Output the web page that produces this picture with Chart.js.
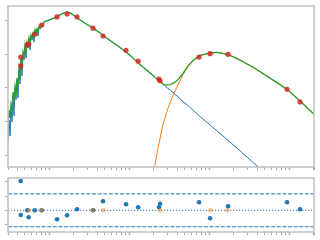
<!DOCTYPE html>
<html>
<head>
<meta charset="utf-8">
<script src="https://cdn.jsdelivr.net/npm/chart.js@4.4.1/dist/chart.umd.min.js"></script>
<style>
  html, body { margin: 0; padding: 0; background: #fff; }
  canvas { display: block; }
</style>
</head>
<body>
<canvas id="sed" width="320" height="172"></canvas>
<canvas id="resid" width="320" height="68"></canvas>
<script>
// wavelength axis limits (log) and log-luminosity limits
const xMin = 0.0307;
const xMax = 205;
const yMin = 40.676;
const yMax = 45.412;
const resMin = -1.517;
const resMax = 2.259;
const band = 1.15;

// noisy spectrum part
const specX = [0.03073, 0.03162, 0.03255, 0.03350, 0.03447, 0.03548, 0.03652, 0.03758, 0.03868, 0.03981,
  0.04097, 0.04217, 0.04340, 0.04467, 0.04597, 0.04732, 0.04870, 0.05012, 0.05158, 0.05309,
  0.05464, 0.05623, 0.05788, 0.05957, 0.06131, 0.06310, 0.06494, 0.06683, 0.06879, 0.07079,
  0.07286, 0.07499, 0.07718, 0.07943, 0.08175, 0.08660];
const specBlue = [41.41, 42.06, 41.59, 42.41, 42.00, 42.76, 42.18, 43.00, 42.65, 43.24,
  42.71, 43.53, 43.12, 43.82, 43.35, 44.00, 43.82, 44.24, 43.88, 44.35,
  44.18, 44.47, 44.12, 44.56, 44.41, 44.62, 44.35, 44.71, 44.59, 44.74,
  44.53, 44.82, 44.74, 44.85, 44.79, 44.94];
const specGreen = [41.94, 42.35, 42.12, 42.53, 42.41, 42.88, 42.65, 43.06, 42.88, 43.29,
  43.06, 43.59, 43.41, 43.88, 43.65, 44.06, 43.94, 44.26, 44.06, 44.35,
  44.24, 44.47, 44.29, 44.56, 44.47, 44.62, 44.50, 44.71, 44.62, 44.74,
  44.65, 44.82, 44.76, 44.85, 44.82, 44.94];

// smooth model part
const modelX = [0.09173, 0.1029, 0.1189, 0.1372, 0.1540, 0.1679, 0.1830, 0.2054, 0.2441, 0.2985,
  0.3548, 0.4340, 0.5788, 0.7718, 1.029, 1.372, 1.830, 2.113, 2.441, 2.738,
  2.985, 3.255, 3.652, 4.097, 4.732, 5.464, 6.310, 7.718, 10.29, 12.59,
  17.28, 24.41, 35.48, 53.09, 94.41, 137.2, 205];
const modelBlue = [44.97, 45.01, 45.07, 45.15, 45.21, 45.23, 45.21, 45.13, 45.00, 44.87,
  44.76, 44.62, 44.40, 44.19, 43.96, 43.69, 43.44, 43.32, 43.19, 43.09,
  43.01, 42.94, 42.84, 42.74, 42.60, 42.48, 42.35, 42.16, 41.91, 41.74,
  41.46, 41.15, 40.81, 40.44, null, null, null];
const modelGreen = [44.97, 45.01, 45.07, 45.15, 45.21, 45.23, 45.21, 45.13, 45.00, 44.87,
  44.76, 44.62, 44.40, 44.19, 43.96, 43.69, 43.44, 43.32, 43.18, 43.10,
  43.09, 43.10, 43.15, 43.25, 43.43, 43.65, 43.81, 43.96, 44.03, 44.05,
  43.99, 43.82, 43.61, 43.35, 42.96, 42.62, 42.23];

const dustX = [1.939, 2.083, 2.304, 2.661, 3.073, 3.447, 4.097, 4.732, 5.464, 6.310,
  7.718, 10.29, 12.59, 17.28, 24.41, 35.48, 53.09, 94.41, 137.2, 205];
const dustY = [40.27, 40.68, 41.24, 41.94, 42.41, 42.71, 43.10, 43.40, 43.63, 43.80,
  43.95, 44.03, 44.05, 43.99, 43.82, 43.61, 43.35, 42.96, 42.62, 42.23];

// photometry
const obsX = [0.0443, 0.0443, 0.0535, 0.0557, 0.0663, 0.0811, 0.126, 0.168, 0.224, 0.355,
  0.473, 0.917, 1.30, 2.37, 2.44, 7.50, 10.3, 17.3, 94.4, 137];
const obsY = [43.91, 43.65, 44.27, 44.29, 44.58, 44.85, 45.09, 45.18, 45.09, 44.76,
  44.53, 44.11, 43.79, 43.26, 43.21, 43.91, 44.01, 43.99, 42.96, 42.59];
const residY = [2.05, -0.33, 0, -0.49, 0, 0, -0.63, -0.35, 0.07, 0,
  0.63, 0.42, 0.21, 0.21, 0.46, 0.56, -0.56, 0.28, 0.56, 0.07];

const limitX = [0.0567, 0.0803, 0.348, 0.477, 2.44, 10.4, 16.9];
const limitY = [0, 0, 0, 0, 0, 0, 0];

const pts = (xs, ys) => xs.map((x, i) => ({ x, y: ys[i] }));

const frame = {
  id: 'frame',
  afterDatasetsDraw(chart) {
    const { ctx, chartArea: a } = chart;
    ctx.save();
    ctx.strokeStyle = '#c2c2c2';
    ctx.lineWidth = 1.6;
    ctx.strokeRect(a.left, a.top, a.right - a.left, a.bottom - a.top);
    ctx.restore();
  }
};

function dropHalfDecades(scale) {
  scale.ticks = scale.ticks.filter(t => {
    const m = t.value / Math.pow(10, Math.floor(Math.log10(t.value) + 1e-9));
    return Math.abs(m - 1.5) > 0.01;
  });
}

const tickGrid = {
  drawOnChartArea: false,
  drawTicks: true,
  tickLength: 3,
  tickColor: '#aaaaaa',
  tickWidth: c => (c.tick && c.tick.major ? 1.6 : 1),
};

function xScale(h) {
  return {
    type: 'logarithmic',
    min: xMin,
    max: xMax,
    ticks: { display: false },
    grid: tickGrid,
    border: { display: false },
    afterBuildTicks: dropHalfDecades,
    afterFit: s => { s.height = h; },
  };
}

function yScale(min, max) {
  return {
    type: 'linear',
    min,
    max,
    ticks: { display: false, stepSize: 1, includeBounds: false },
    grid: tickGrid,
    border: { display: false },
    afterFit: s => { s.width = 8; },
  };
}

const common = {
  responsive: false,
  animation: false,
  plugins: { legend: { display: false }, tooltip: { enabled: false } },
};

new Chart(document.getElementById('sed'), {
  type: 'scatter',
  data: {
    datasets: [
      {
        data: pts(obsX, obsY),
        pointRadius: 2.6,
        pointBackgroundColor: 'rgba(214,39,40,0.85)',
        pointBorderWidth: 0,
        order: 0,
      },
      {
        data: pts(specX, specGreen).concat(pts(modelX, modelGreen)),
        showLine: true,
        borderColor: '#2ca02c',
        borderWidth: 1.3,
        pointRadius: 0,
        order: 1,
      },
      {
        data: pts(dustX, dustY),
        showLine: true,
        borderColor: '#ff7f0e',
        borderWidth: 1,
        pointRadius: 0,
        order: 2,
      },
      {
        data: pts(specX, specBlue).concat(pts(modelX, modelBlue)),
        showLine: true,
        spanGaps: false,
        borderColor: '#1f77b4',
        borderWidth: 1,
        pointRadius: 0,
        order: 3,
      },
    ],
  },
  options: {
    ...common,
    layout: { padding: { top: 6, right: 6, left: 0, bottom: 0 } },
    scales: { x: xScale(5), y: yScale(yMin, yMax) },
  },
  plugins: [frame],
});

new Chart(document.getElementById('resid'), {
  type: 'scatter',
  data: {
    datasets: [
      {
        data: pts(limitX, limitY),
        pointRadius: 2.3,
        pointBackgroundColor: 'rgba(255,127,14,0.5)',
        pointBorderWidth: 0,
        order: 0,
      },
      {
        data: pts(obsX, residY),
        pointRadius: 2.3,
        pointBackgroundColor: '#1f77b4',
        pointBorderWidth: 0,
        order: 1,
      },
      {
        data: [{ x: xMin, y: 0 }, { x: xMax, y: 0 }],
        showLine: true,
        borderColor: '#1f77b4',
        borderWidth: 1.1,
        borderDash: [1.2, 1.8],
        pointRadius: 0,
        order: 2,
      },
      {
        data: [{ x: xMin, y: band }, { x: xMax, y: band }],
        showLine: true,
        borderColor: '#1f77b4',
        borderWidth: 1,
        borderDash: [4, 1.6],
        pointRadius: 0,
        order: 2,
      },
      {
        data: [{ x: xMin, y: -band }, { x: xMax, y: -band }],
        showLine: true,
        borderColor: '#1f77b4',
        borderWidth: 1,
        borderDash: [4, 1.6],
        pointRadius: 0,
        order: 2,
      },
    ],
  },
  options: {
    ...common,
    layout: { padding: { top: 6, right: 6, left: 0, bottom: 0 } },
    scales: { x: xScale(8), y: yScale(resMin, resMax) },
  },
  plugins: [frame],
});
</script>
</body>
</html>
